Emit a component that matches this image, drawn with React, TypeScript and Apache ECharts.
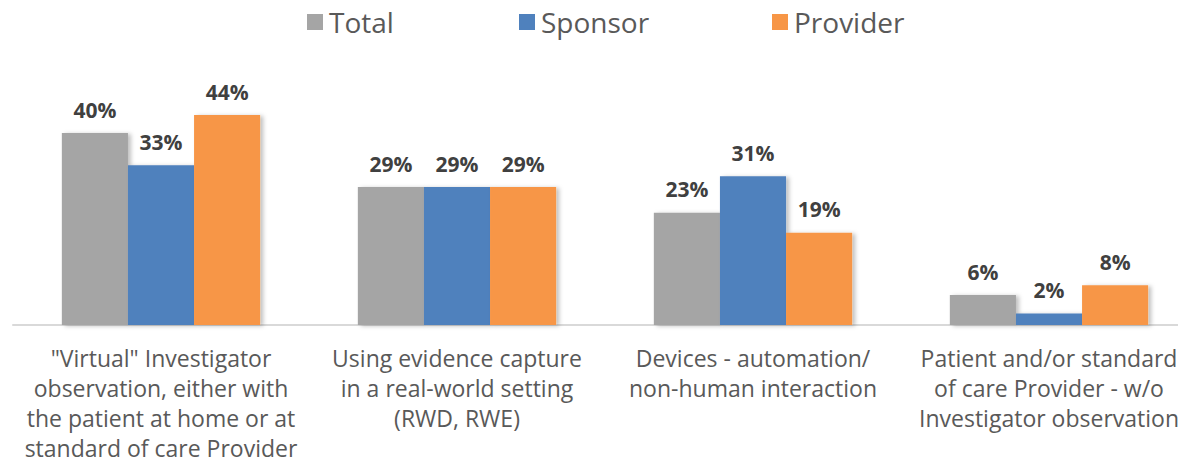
import React, { useEffect, useRef } from "react";
import * as echarts from "echarts";

const categories = [
  '"Virtual" Investigator\nobservation, either with\nthe patient at home or at\nstandard of care Provider',
  "Using evidence capture\nin a real-world setting\n(RWD, RWE)",
  "Devices - automation/\nnon-human interaction",
  "Patient and/or standard\nof care Provider - w/o\nInvestigator observation",
];
const seriesNames = ["Total", "Sponsor", "Provider"];
const totalValues = [40, 28.75, 23.4, 6.25];
const sponsorValues = [33.3, 28.75, 31, 2.4];
const providerValues = [43.75, 28.75, 19.2, 8.3];
const colors = ["#A5A5A5", "#4F81BD", "#F79646"];
const legendLefts = [302, 514, 767];

export default function App() {
  const ref = useRef<HTMLDivElement>(null);
  useEffect(() => {
    if (!ref.current) return;
    const chart = echarts.init(ref.current, undefined, { renderer: "svg" });
    const font = "'Open Sans', 'Noto Sans', sans-serif";
    const mk = (name: string, data: number[], color: string) => ({
      name,
      type: "bar",
      data,
      barGap: "0%",
      barCategoryGap: "33%",
      itemStyle: {
        color,
        shadowColor: "rgba(0,0,0,0.25)",
        shadowBlur: 4,
        shadowOffsetX: 3,
        shadowOffsetY: 1,
      },
      label: {
        show: true,
        position: "top",
        distance: 13,
        formatter: (p: any) => Math.round(p.value) + "%",
        fontFamily: font,
        fontWeight: "bold",
        fontSize: 21,
        color: "#404040",
      },
    });
    chart.setOption({
      animation: false,
      legend: seriesNames.map((n, i) => ({
        data: [n],
        top: 3,
        left: legendLefts[i],
        itemWidth: 16,
        itemHeight: 16,
        icon: "rect",
        textStyle: { fontFamily: font, fontSize: 28, color: "#595959", padding: [0, 0, 0, 1] },
      })),
      grid: { left: 13, top: 85, width: 1184, height: 240, containLabel: false },
      xAxis: {
        type: "category",
        data: categories,
        axisTick: { show: false },
        axisLine: { lineStyle: { color: "#D9D9D9", width: 2 } },
        axisLabel: {
          interval: 0,
          margin: 18,
          fontFamily: font,
          fontSize: 23,
          lineHeight: 30,
          color: "#595959",
          align: "center",
        },
      },
      yAxis: {
        type: "value",
        min: 0,
        max: 50,
        show: false,
        splitLine: { show: false },
      },
      series: [
        mk(seriesNames[0], totalValues, colors[0]),
        mk(seriesNames[1], sponsorValues, colors[1]),
        mk(seriesNames[2], providerValues, colors[2]),
      ],
    });
    return () => chart.dispose();
  }, []);
  return (
    <div
      style={{
        position: "fixed",
        left: 0,
        top: 0,
        width: 1178,
        height: 474,
        overflow: "hidden",
        background: "#fff",
      }}
    >
      <div ref={ref} style={{ width: 1200, height: 474 }} />
    </div>
  );
}
